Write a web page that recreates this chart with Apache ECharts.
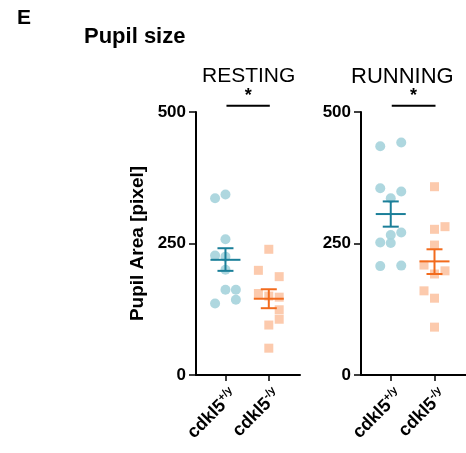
<!DOCTYPE html>
<html><head><meta charset="utf-8">
<script src="https://cdn.jsdelivr.net/npm/echarts@6/dist/echarts.min.js"></script>
<style>html,body{margin:0;padding:0;background:#fff}#c{width:466px;height:453px}</style>
</head><body><div id="c"></div>
<script>
const categories = ['cdkl5+/y', 'cdkl5-/y'];
const yTicks = [0, 250, 500];
const panels = ['RESTING', 'RUNNING'];
// values, with horizontal jitter (category units)
const restWT = [336, 343, 258, 227, 225, 200, 162, 162, 143, 136];
const restWTjit = [-0.24, 0, 0, -0.24, 0, 0, 0, 0.24, 0.24, -0.24];
const restKO = [239, 199, 187, 155, 150, 148, 124, 106, 95, 51];
const restKOjit = [0, -0.24, 0.24, -0.24, 0, 0.24, 0.24, 0.24, 0, 0];
const runWT = [435, 442, 355, 349, 336, 266, 271, 252, 251, 207, 208];
const runWTjit = [-0.24, 0.24, -0.24, 0.24, 0, 0, 0.24, -0.24, 0, -0.24, 0.24];
const runKO = [358, 277, 282, 247, 209, 192, 198, 160, 146, 91];
const runKOjit = [0, 0, 0.24, 0, -0.24, 0, 0.24, -0.24, 0, 0];
// mean and error-bar limits
const restMean = [219, 145];
const restLow = [198, 127];
const restHigh = [241, 163];
const runMean = [306, 216];
const runLow = [282, 192];
const runHigh = [330, 239];
const sigY = 512;
const sigLabel = '*';

const FONT = 'Arial, "Liberation Sans", sans-serif';
const BLUE_PT = '#a5d3dc', ORANGE_PT = '#fcc4a4';
const BLUE = '#1b7f99', ORANGE = '#f26b1d';
const LABEL_SHIFT = 0.2; // label anchor nudge right of tick (style)

const chart = echarts.init(document.getElementById('c'), null, {renderer: 'canvas'});

function pts(vals, jit, cat) { return vals.map((v, i) => [cat + jit[i], v]); }

function xAxis(gi) {
  return {
    type: 'value', gridIndex: gi, min: -0.68, max: 1.72,
    axisLine: {show: true, onZero: false, lineStyle: {color: '#000', width: 2}},
    axisTick: {show: true, length: 6, lineStyle: {color: '#000', width: 1.5}, customValues: [0, 1]},
    splitLine: {show: false},
    axisLabel: {
      customValues: [0 + LABEL_SHIFT, 1 + LABEL_SHIFT], rotate: 45, margin: 17, color: '#000',
      fontFamily: FONT, fontWeight: 'bold', fontSize: 18,
      formatter: v => {
        const c = categories[Math.round(v - LABEL_SHIFT)];
        return '{b|cdkl5}{s|' + c.slice(5) + '}';
      },
      rich: {
        b: {fontFamily: FONT, fontWeight: 'bold', fontSize: 18, color: '#000'},
        s: {fontFamily: FONT, fontWeight: 'bold', fontSize: 11, color: '#000', verticalAlign: 'top', padding: [0, 0, 10, 0]}
      }
    }
  };
}
function yAxis(gi, name) {
  return {
    type: 'value', gridIndex: gi, min: 0, max: 500, interval: 250,
    name: name, nameLocation: 'middle', nameGap: 49,
    nameTextStyle: {fontFamily: FONT, fontWeight: 'bold', fontSize: 19, color: '#000'},
    axisLine: {show: true, onZero: false, lineStyle: {color: '#000', width: 2}},
    axisTick: {show: true, length: 7, lineStyle: {color: '#000', width: 1.5}},
    splitLine: {show: false},
    axisLabel: {color: '#000', fontFamily: FONT, fontWeight: 'bold', fontSize: 17, margin: 10}
  };
}
function errSeries(gi, mean, low, high) {
  return {
    type: 'custom', xAxisIndex: gi, yAxisIndex: gi, z: 5,
    data: mean.map((m, i) => [i, m, low[i], high[i]]),
    renderItem: (params, api) => {
      const x = api.value(0);
      const pm = api.coord([x, api.value(1)]);
      const pl = api.coord([x, api.value(2)]);
      const ph = api.coord([x, api.value(3)]);
      const col = x === 0 ? BLUE : ORANGE;
      const st = {stroke: col, lineWidth: 2};
      return {type: 'group', children: [
        {type: 'line', shape: {x1: pm[0] - 15, y1: pm[1], x2: pm[0] + 15, y2: pm[1]}, style: st},
        {type: 'line', shape: {x1: pl[0], y1: pl[1], x2: ph[0], y2: ph[1]}, style: st},
        {type: 'line', shape: {x1: pl[0] - 8, y1: pl[1], x2: pl[0] + 8, y2: pl[1]}, style: st},
        {type: 'line', shape: {x1: ph[0] - 8, y1: ph[1], x2: ph[0] + 8, y2: ph[1]}, style: st}
      ]};
    }
  };
}
function scat(gi, data, color, symbol, size) {
  return {type: 'scatter', xAxisIndex: gi, yAxisIndex: gi, data: data, symbol: symbol, symbolSize: size,
    itemStyle: {color: color, opacity: 0.9}, z: 2, silent: true};
}

const option = {
  animation: false,
  backgroundColor: '#fff',
  title: [
    {text: 'E', left: 12, top: 3, textStyle: {fontFamily: FONT, fontWeight: 'bold', fontSize: 21, color: '#000'}},
    {text: 'Pupil size', left: 79, top: 21, textStyle: {fontFamily: FONT, fontWeight: 'bold', fontSize: 22, color: '#000'}},
    {text: panels[0], left: 197, top: 61, textStyle: {fontFamily: FONT, fontWeight: 'normal', fontSize: 21, color: '#000'}},
    {text: panels[1], left: 346, top: 61, textStyle: {fontFamily: FONT, fontWeight: 'normal', fontSize: 22, color: '#000'}}
  ],
  grid: [
    {left: 196, top: 112, width: 104, height: 263},
    {left: 361, top: 112, width: 105, height: 263}
  ],
  xAxis: [xAxis(0), xAxis(1)],
  yAxis: [yAxis(0, 'Pupil Area [pixel]'), yAxis(1, '')],
  series: [
    scat(0, pts(restWT, restWTjit, 0), BLUE_PT, 'circle', 10),
    scat(0, pts(restKO, restKOjit, 1), ORANGE_PT, 'rect', 9),
    scat(1, pts(runWT, runWTjit, 0), BLUE_PT, 'circle', 10),
    scat(1, pts(runKO, runKOjit, 1), ORANGE_PT, 'rect', 9),
    errSeries(0, restMean, restLow, restHigh),
    errSeries(1, runMean, runLow, runHigh)
  ]
};
chart.setOption(option);

// significance bars placed via library scales
const g = [];
[0, 1].forEach(gi => {
  const a = chart.convertToPixel({gridIndex: gi}, [0, sigY]);
  const b = chart.convertToPixel({gridIndex: gi}, [1, sigY]);
  g.push({type: 'line', shape: {x1: a[0] + 1, y1: a[1], x2: b[0] + 1, y2: b[1]}, style: {stroke: '#000', lineWidth: 2}});
  g.push({type: 'text', x: (a[0] + b[0]) / 2 + 1, y: a[1] - 1,
    style: {text: sigLabel, font: 'bold 18px ' + FONT, fill: '#000', textAlign: 'center', textVerticalAlign: 'bottom'}});
});
chart.setOption({graphic: g});
</script>
</body></html>
